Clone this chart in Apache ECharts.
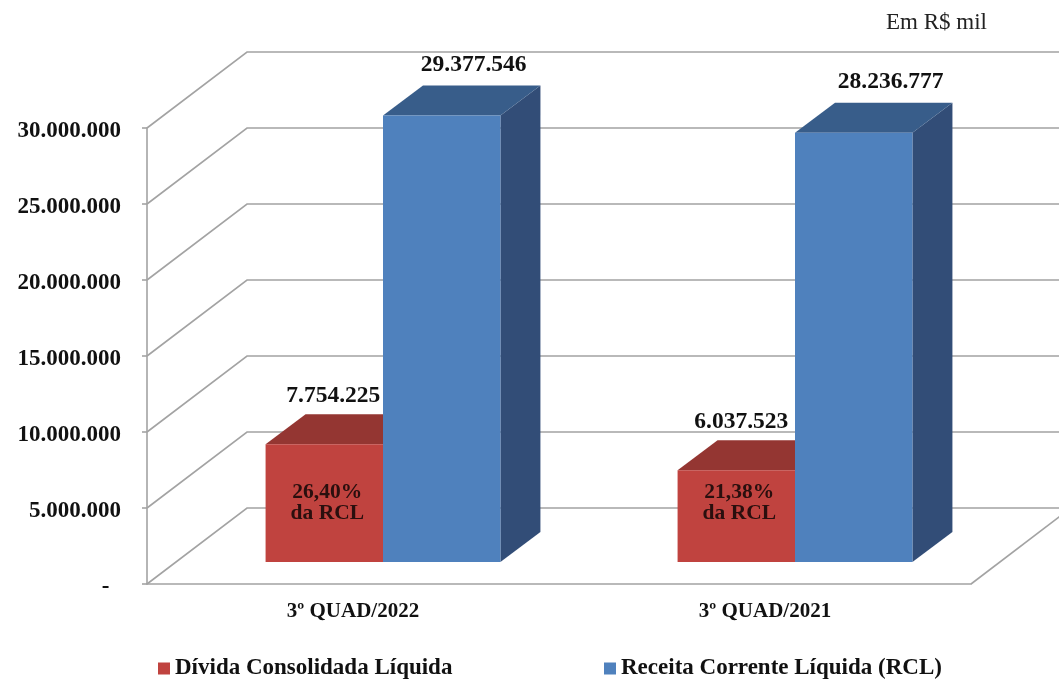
<!DOCTYPE html>
<html><head><meta charset="utf-8">
<style>html,body{margin:0;padding:0;background:#fff}#c{width:1059px;height:679px}</style>
<script src="https://cdn.jsdelivr.net/npm/echarts@6/dist/echarts.min.js"></script>
</head><body><div id="c"></div>
<script>
const categories = ['3º QUAD/2022', '3º QUAD/2021'];
const divida = [7754225, 6037523];
const receita = [29377546, 28236777];
const dividaLabels = ['7.754.225', '6.037.523'];
const receitaLabels = ['29.377.546', '28.236.777'];
const shares = ['26,40%\nda RCL', '21,38%\nda RCL'];
const wallTicks = [0, 5000000, 10000000, 15000000, 20000000, 25000000, 30000000];
const tickLabels = ['-\u00a0\u00a0', '5.000.000', '10.000.000', '15.000.000', '20.000.000', '25.000.000', '30.000.000'];

const FONT = '"Liberation Serif", serif';
const LINE = '#a3a3a3';
const chart = echarts.init(document.getElementById('c'));

function wall(params, api) {
  const v = api.value(0), cs = params.coordSys;
  const y = api.coord([0, v])[1];
  const dy = api.size([0, 5000000])[1], dx = 100;
  const x0 = cs.x, x1 = cs.x + cs.width;
  const kids = [{ type: 'polyline', shape: { points: [[x0, y], [x0 + dx, y - dy], [x1 + dx, y - dy]] },
    style: { stroke: LINE, lineWidth: 1.6, fill: null } }];
  if (v === 0) kids.push({ type: 'line', shape: { x1: x1, y1: y, x2: x1 + dx, y2: y - dy },
    style: { stroke: LINE, lineWidth: 1.6 } });
  return { type: 'group', children: kids };
}

function bar3d(opts) {
  return function (params, api) {
    const i = api.value(0), val = api.value(1);
    const top = api.coord([i, val]), base = api.coord([i, 0]);
    const band = api.size([1, 0])[0];
    const w = band * 0.285, sx = 30, sy = 22, dx = 40, dy = 30;
    const xl = top[0] + sx + (opts.side < 0 ? -w : 0), xr = xl + w;
    const yt = top[1] - sy, yb = base[1] - sy;
    const kids = [
      { type: 'polygon', shape: { points: [[xr, yt], [xr + dx, yt - dy], [xr + dx, yb - dy], [xr, yb]] },
        style: { fill: opts.sideColor } },
      { type: 'polygon', shape: { points: [[xl, yt], [xl + dx, yt - dy], [xr + dx, yt - dy], [xr, yt]] },
        style: { fill: opts.topColor } },
      { type: 'rect', shape: { x: xl, y: yt, width: w, height: yb - yt }, style: { fill: opts.color } },
      { type: 'text', style: { x: (xl + xr) / 2 + opts.labelDx[params.dataIndex], y: yt - opts.labelDy, text: opts.labels[params.dataIndex],
        font: 'bold 23.5px ' + FONT, fill: '#111', textAlign: 'center', textVerticalAlign: 'middle' }, z2: 10 }
    ];
    if (opts.inner) kids.push({ type: 'text', style: {
      x: (xl + xr) / 2 + 3, y: api.coord([i, 5300000])[1], text: opts.inner[params.dataIndex],
      font: 'bold 21.5px ' + FONT, fill: '#2a0f0e', lineHeight: 21, textAlign: 'center', textVerticalAlign: 'middle' }, z2: 10 });
    return { type: 'group', children: kids };
  };
}

chart.setOption({
  backgroundColor: '#fff',
  animation: false,
  title: { text: 'Em R$ mil', left: 881, top: 6, textStyle: { fontFamily: FONT, fontSize: 23, fontWeight: 'normal', color: '#222' } },
  grid: { left: 147, right: 88, top: 128, bottom: 95 },
  legend: [
    { data: ['Dívida Consolidada Líquida'], left: 153, top: 652, icon: 'rect', itemWidth: 12, itemHeight: 12, itemGap: 6,
      textStyle: { fontFamily: FONT, fontSize: 23, fontWeight: 'bold', color: '#111' } },
    { data: ['Receita Corrente Líquida (RCL)'], left: 599, top: 652, icon: 'rect', itemWidth: 12, itemHeight: 12, itemGap: 6,
      textStyle: { fontFamily: FONT, fontSize: 23, fontWeight: 'bold', color: '#111' } }
  ],
  xAxis: { type: 'category', data: categories,
    axisLine: { lineStyle: { color: LINE, width: 1.6 } },
    axisTick: { length: 6, lineStyle: { color: LINE, width: 1.6 } },
    axisLabel: { margin: 17, fontFamily: FONT, fontSize: 21, fontWeight: 'bold', color: '#111' } },
  yAxis: { type: 'value', min: 0, max: 30000000, interval: 5000000, splitLine: { show: false },
    axisLine: { show: true, lineStyle: { color: LINE, width: 1.6 } },
    axisTick: { show: true, length: 5, lineStyle: { color: LINE, width: 1.6 } },
    axisLabel: { margin: 26, fontFamily: FONT, fontSize: 23, fontWeight: 'bold', color: '#111', verticalAlign: 'top', lineHeight: 6,
      formatter: (v) => tickLabels[wallTicks.indexOf(v)] } },
  series: [
    { type: 'custom', name: 'wall', silent: true, z: 1, clip: false, renderItem: wall,
      data: wallTicks.map(v => [v]), encode: { y: 0 } },
    { type: 'custom', name: 'Dívida Consolidada Líquida', z: 2, clip: false, itemStyle: { color: '#C0433F' },
      renderItem: bar3d({ side: -1, color: '#C0433F', topColor: '#943632', sideColor: '#7d2d2a', labels: dividaLabels, labelDx: [9, 5], labelDy: 48, inner: shares }),
      data: divida.map((v, i) => [i, v]), encode: { x: 0, y: 1 } },
    { type: 'custom', name: 'Receita Corrente Líquida (RCL)', z: 3, clip: false, itemStyle: { color: '#4F81BD' },
      renderItem: bar3d({ side: 1, color: '#4F81BD', topColor: '#385D8A', sideColor: '#324D77', labels: receitaLabels, labelDx: [32, 37], labelDy: 51 }),
      data: receita.map((v, i) => [i, v]), encode: { x: 0, y: 1 } }
  ]
});
</script></body></html>
